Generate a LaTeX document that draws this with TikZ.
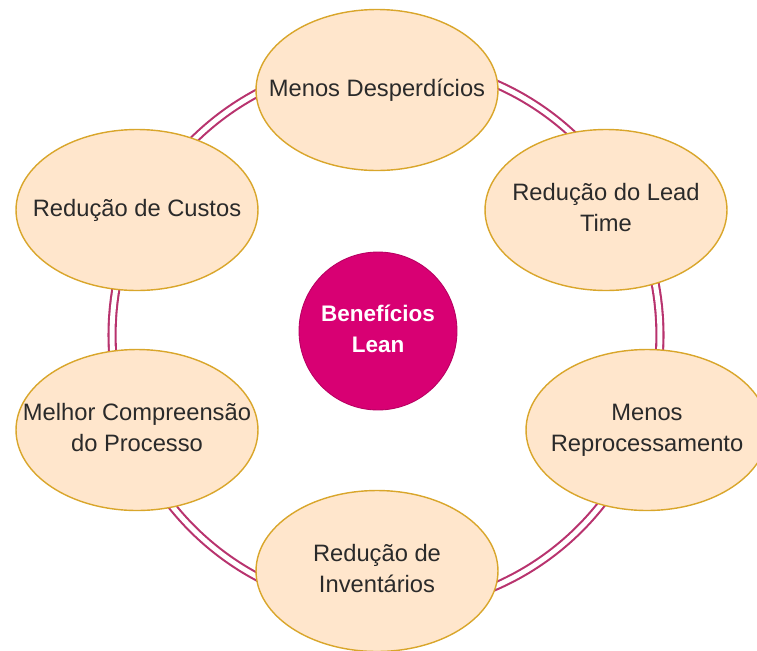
\documentclass[tikz,border=0pt]{standalone}
\usepackage{fontspec}
\setmainfont{Liberation Sans}
\usepackage{tikz}
\usetikzlibrary{shapes.geometric}
\definecolor{peach}{HTML}{FFE6CC}
\definecolor{peachline}{HTML}{D9A62B}
\definecolor{leanpink}{HTML}{D80073}
\definecolor{ringline}{HTML}{B8336E}
\definecolor{txtgray}{HTML}{2A2A2A}
\newcommand{\btxt}[1]{\makebox[0pt][c]{\begin{tabular}{@{}c@{}}#1\end{tabular}}}

\begin{document}
\begin{tikzpicture}[x=0.02cm, y=-0.02cm,
    benefit/.style={ellipse, draw=peachline, fill=peach, line width=0.8pt, minimum width=4.84cm, minimum height=3.22cm, inner sep=0pt, text=txtgray, font=\fontsize{13.5}{17.5}\selectfont},
    core/.style={circle, draw=leanpink!85!black, fill=leanpink, line width=0.5pt, minimum size=3.16cm, inner sep=0pt, text=white, font=\bfseries\fontsize{12.8}{17.5}\selectfont},
    ring/.style={draw=ringline, line width=1.2pt, double=white, double distance=2.8pt}]
    % Lean benefits around a double ring
    \useasboundingbox (0,0) rectangle (757,650);
    \coordinate (hub) at (386,335);
    \draw [ring] (hub) circle [radius=5.48cm];

    \node (lean) at (378,331) [core] {\btxt{Benefícios\\Lean}};

    \node (desp) at (377,90) [benefit] {\btxt{Menos Desperdícios}};
    \node (lead) at (606,210) [benefit] {\btxt{Redução do Lead\\Time}};
    \node (repro) at (647,430) [benefit] {\btxt{Menos\\Reprocessamento}};
    \node (inv) at (377,571) [benefit] {\btxt{Redução de\\Inventários}};
    \node (proc) at (137,430) [benefit] {\btxt{Melhor Compreensão\\do Processo}};
    \node (cust) at (137,210) [benefit] {\btxt{Redução de Custos}};
\end{tikzpicture}
\end{document}
